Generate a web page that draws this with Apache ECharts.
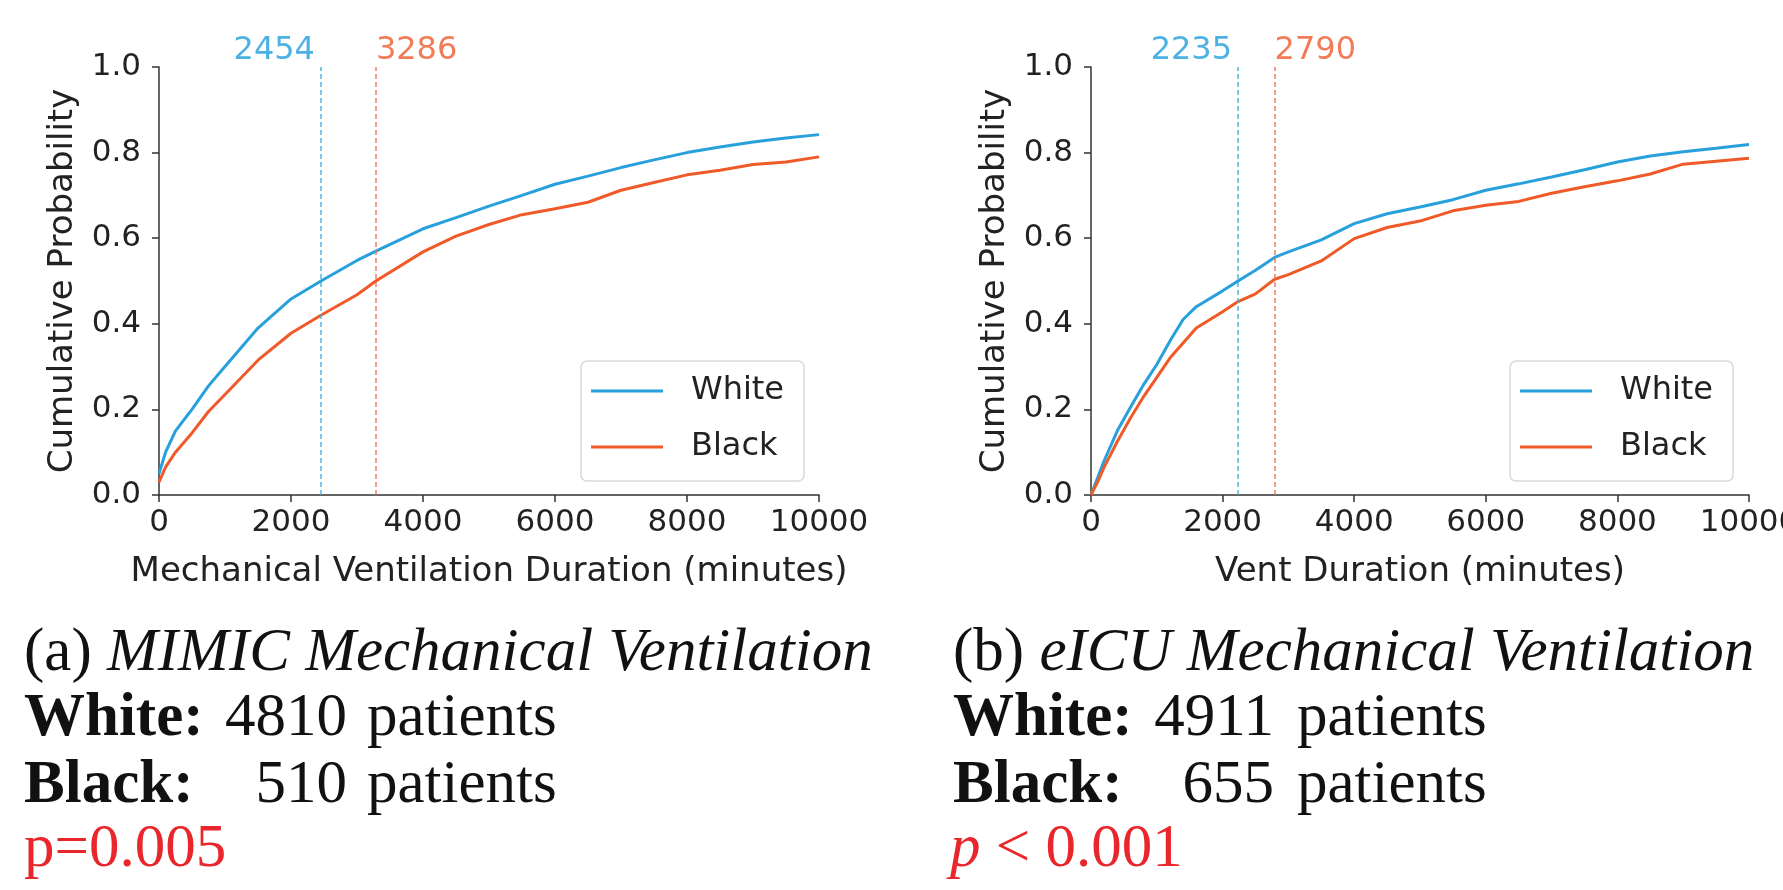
<!DOCTYPE html>
<html>
<head>
<meta charset="utf-8">
<script src="https://cdn.jsdelivr.net/npm/echarts@6/dist/echarts.min.js"></script>
<style>
  html, body { margin: 0; padding: 0; background: #fff; }
  #chart { width: 1783px; height: 890px; }
</style>
</head>
<body>
<div id="chart"></div>
<script>
// MIMIC mechanical ventilation ECDF
var mimicX = [0, 100, 250, 500, 750, 1000, 1500, 2000, 2454, 3000, 3286, 4000, 4500, 5000, 5500, 6000, 6500, 7000, 7500, 8000, 8500, 9000, 9500, 10000];
var mimicWhite = [0.05, 0.10, 0.15, 0.20, 0.255, 0.30, 0.39, 0.458, 0.50, 0.548, 0.57, 0.622, 0.648, 0.675, 0.70, 0.726, 0.745, 0.765, 0.783, 0.80, 0.813, 0.825, 0.834, 0.842];
var mimicBlack = [0.03, 0.065, 0.10, 0.145, 0.195, 0.235, 0.315, 0.378, 0.42, 0.468, 0.50, 0.568, 0.605, 0.632, 0.655, 0.669, 0.684, 0.712, 0.73, 0.748, 0.759, 0.772, 0.778, 0.79];
var mimicMedians = [2454, 3286];

// eICU vent duration ECDF
var eicuX = [0, 100, 200, 400, 600, 800, 1000, 1200, 1400, 1600, 2000, 2235, 2500, 2790, 3000, 3500, 4000, 4500, 5000, 5500, 6000, 6500, 7000, 7500, 8000, 8500, 9000, 9500, 10000];
var eicuWhite = [0, 0.04, 0.08, 0.15, 0.205, 0.258, 0.305, 0.36, 0.41, 0.44, 0.477, 0.50, 0.525, 0.555, 0.568, 0.596, 0.634, 0.657, 0.673, 0.69, 0.712, 0.727, 0.743, 0.76, 0.778, 0.792, 0.802, 0.81, 0.819];
var eicuBlack = [0, 0.03, 0.065, 0.125, 0.18, 0.23, 0.275, 0.32, 0.355, 0.39, 0.428, 0.452, 0.47, 0.504, 0.515, 0.547, 0.599, 0.625, 0.64, 0.664, 0.677, 0.686, 0.705, 0.72, 0.734, 0.75, 0.773, 0.78, 0.787];
var eicuMedians = [2235, 2790];

var blue = '#27a0dc';
var orange = '#f05a28';
var blueText = '#3aa9e0';
var orangeText = '#ef6e44';
var red = '#e8262c';
var font = 'DejaVu Sans';
var serif = 'Liberation Serif';
var serifSize = 61;

function pairs(xs, ys) {
  return xs.map(function (x, i) { return [x, ys[i]]; });
}

function medianLine(val, color, textColor, align) {
  return {
    symbol: 'none',
    silent: true,
    lineStyle: { color: color, type: [5, 3], width: 1.5, opacity: 0.9 },
    label: {
      position: 'end', formatter: String(val), color: textColor,
      fontFamily: font, fontSize: 32, align: align, distance: 0,
      padding: align == 'right' ? [0, 6, 0, 0] : [0, 0, 0, 0]
    },
    data: [{ xAxis: val }]
  };
}

function xAxisOpt(idx, name) {
  return {
    gridIndex: idx, type: 'value', min: 0, max: 10000, interval: 2000,
    name: name, nameLocation: 'middle', nameGap: 60,
    nameTextStyle: { fontFamily: font, fontSize: 34, color: '#222' },
    axisLine: { lineStyle: { color: '#333', width: 1.5 } },
    axisTick: { length: 7, lineStyle: { color: '#333', width: 1.5 } },
    axisLabel: { fontFamily: font, fontSize: 31, color: '#222', margin: 12,
      formatter: function (v) { return String(v); } },
    splitLine: { show: false }
  };
}

function yAxisOpt(idx) {
  return {
    gridIndex: idx, type: 'value', min: 0, max: 1, interval: 0.2,
    name: 'Cumulative Probability', nameLocation: 'middle', nameGap: 79,
    nameTextStyle: { fontFamily: font, fontSize: 34, color: '#222' },
    axisLine: { show: true, lineStyle: { color: '#333', width: 1.5 } },
    axisTick: { show: true, length: 7, lineStyle: { color: '#333', width: 1.5 } },
    axisLabel: { fontFamily: font, fontSize: 31, color: '#222', margin: 18,
      formatter: function (v) { return v.toFixed(1); } },
    splitLine: { show: false }
  };
}

function legendOpt(left) {
  return {
    left: left, top: 361, orient: 'vertical',
    data: ['White', 'Black'], icon: 'rect', itemWidth: 72, itemHeight: 3,
    itemGap: 24, padding: [14, 20, 18, 10],
    backgroundColor: 'rgba(255,255,255,0.8)', borderColor: '#d9d9d9',
    borderWidth: 1.5, borderRadius: 6,
    textStyle: { fontFamily: font, fontSize: 32, color: '#222', lineHeight: 30, padding: [0, 0, 0, 23] }
  };
}

function lineSeries(name, idx, xs, ys, color, ml) {
  return {
    name: name, type: 'line', xAxisIndex: idx, yAxisIndex: idx,
    data: pairs(xs, ys), showSymbol: false, symbol: 'none',
    lineStyle: { color: color, width: 3 }, itemStyle: { color: color },
    markLine: ml
  };
}

var rich = {
  n: { fontFamily: serif, fontSize: serifSize, fill: '#111' },
  i: { fontFamily: serif, fontSize: serifSize, fontStyle: 'italic', fill: '#111' },
  r: { fontFamily: serif, fontSize: serifSize, fill: red },
  ri: { fontFamily: serif, fontSize: serifSize, fontStyle: 'italic', fill: red }
};

function textLine(x, y, text) {
  return {
    type: 'text', x: x, y: y,
    style: { text: text, rich: rich, verticalAlign: 'middle', align: 'left',
      fontFamily: serif, fontSize: serifSize }
  };
}

function plain(x, y, text, align, weight, color) {
  return {
    type: 'text', x: x, y: y,
    style: { text: text, fontFamily: serif, fontSize: serifSize, fontWeight: weight || 'normal',
      fill: color || '#111', align: align, verticalAlign: 'middle' }
  };
}

var chart = echarts.init(document.getElementById('chart'));
chart.setOption({
  animation: false,
  backgroundColor: '#fff',
  grid: [
    { left: 159, top: 67, width: 660, height: 428, outerBoundsMode: 'none' },
    { left: 1091, top: 67, width: 658, height: 428, outerBoundsMode: 'none' }
  ],
  xAxis: [xAxisOpt(0, 'Mechanical Ventilation Duration (minutes)'), xAxisOpt(1, 'Vent Duration (minutes)')],
  yAxis: [yAxisOpt(0), yAxisOpt(1)],
  legend: [legendOpt(581), legendOpt(1510)],
  series: [
    lineSeries('White', 0, mimicX, mimicWhite, blue, medianLine(mimicMedians[0], '#3ab0e2', blueText, 'right')),
    lineSeries('Black', 0, mimicX, mimicBlack, orange, medianLine(mimicMedians[1], '#f07050', orangeText, 'left')),
    lineSeries('White', 1, eicuX, eicuWhite, blue, medianLine(eicuMedians[0], '#3ab0e2', blueText, 'right')),
    lineSeries('Black', 1, eicuX, eicuBlack, orange, medianLine(eicuMedians[1], '#f07050', orangeText, 'left'))
  ],
  graphic: [
    textLine(24, 654, '{n|(a)} {i|MIMIC Mechanical Ventilation}'),
    plain(24, 719, 'White:', 'left', 'bold'),
    plain(347, 719, '4810', 'right'),
    plain(367, 719, 'patients', 'left'),
    plain(24, 786, 'Black:', 'left', 'bold'),
    plain(347, 786, '510', 'right'),
    plain(367, 786, 'patients', 'left'),
    plain(24, 850, 'p=0.005', 'left', 'normal', red),

    textLine(953, 654, '{n|(b)} {i|eICU Mechanical Ventilation}'),
    plain(953, 719, 'White:', 'left', 'bold'),
    plain(1274, 719, '4911', 'right'),
    plain(1297, 719, 'patients', 'left'),
    plain(953, 786, 'Black:', 'left', 'bold'),
    plain(1274, 786, '655', 'right'),
    plain(1297, 786, 'patients', 'left'),
    textLine(950, 850, '{ri|p} {r|< 0.001}')
  ]
});
</script>
</body>
</html>
